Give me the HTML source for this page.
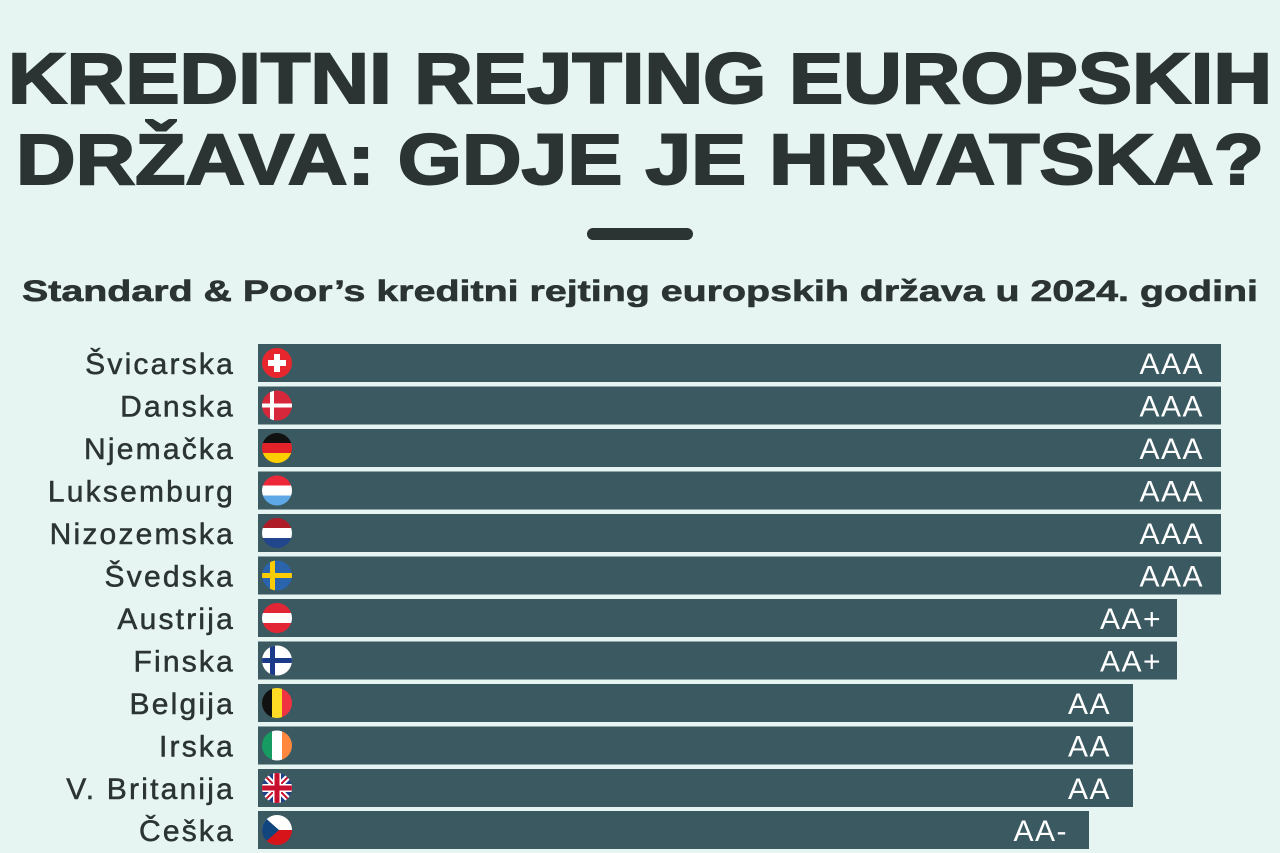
<!DOCTYPE html>
<html><head><meta charset="utf-8"><style>
html,body{margin:0;padding:0;background:#e6f5f2;}
svg{display:block}
.l{font-size:30px;letter-spacing:2.2px;fill:#2b3432;stroke:#2b3432;stroke-width:0.5}
.r{font-size:30px;letter-spacing:1.5px;fill:#fff}
</style></head><body>
<svg width="1280" height="853" viewBox="0 0 1280 853" xmlns="http://www.w3.org/2000/svg">
<rect width="1280" height="853" fill="#e6f5f2"/>
<g font-family="Liberation Sans, sans-serif" font-weight="bold" fill="#2b3432" stroke="#2b3432">
<text x="8" y="103" font-size="71" stroke-width="2" textLength="1264" lengthAdjust="spacingAndGlyphs">KREDITNI REJTING EUROPSKIH</text>
<text x="16" y="184" font-size="71" stroke-width="2" textLength="1248" lengthAdjust="spacingAndGlyphs">DRŽAVA: GDJE JE HRVATSKA?</text>
<text x="22" y="301" font-size="30" stroke-width="0.6" textLength="1236" lengthAdjust="spacingAndGlyphs">Standard &amp; Poor’s kreditni rejting europskih država u 2024. godini</text>
</g>
<rect x="587" y="228" width="106" height="12" rx="6" fill="#2b3432"/>
<defs>
<clipPath id="c"><circle cx="0" cy="0" r="15"/></clipPath>
</defs>
<g font-family="Liberation Sans, sans-serif">
<g transform="translate(0,344)">
<text class="l" x="235" y="30" text-anchor="end">Švicarska</text>
<rect x="258" width="963" height="38" fill="#3a5961"/>
<text class="r" x="1204" y="30" text-anchor="end">AAA</text>
<g transform="translate(277,19)" clip-path="url(#c)"><rect x="-15" y="-15" width="30" height="30" fill="#e8262d"/><rect x="-3" y="-9" width="6" height="18" fill="#fff"/><rect x="-9" y="-3" width="18" height="6" fill="#fff"/></g>
</g>
<g transform="translate(0,386.5)">
<text class="l" x="235" y="30" text-anchor="end">Danska</text>
<rect x="258" width="963" height="38" fill="#3a5961"/>
<text class="r" x="1204" y="30" text-anchor="end">AAA</text>
<g transform="translate(277,19)" clip-path="url(#c)"><rect x="-15" y="-15" width="30" height="30" fill="#d6283a"/><rect x="-7" y="-15" width="4" height="30" fill="#fff"/><rect x="-15" y="-2" width="30" height="4" fill="#fff"/></g>
</g>
<g transform="translate(0,429)">
<text class="l" x="235" y="30" text-anchor="end">Njemačka</text>
<rect x="258" width="963" height="38" fill="#3a5961"/>
<text class="r" x="1204" y="30" text-anchor="end">AAA</text>
<g transform="translate(277,19)" clip-path="url(#c)"><rect x="-15" y="-15" width="30" height="10" fill="#111"/><rect x="-15" y="-5" width="30" height="10" fill="#e3222a"/><rect x="-15" y="5" width="30" height="10" fill="#ffce00"/></g>
</g>
<g transform="translate(0,471.5)">
<text class="l" x="235" y="30" text-anchor="end">Luksemburg</text>
<rect x="258" width="963" height="38" fill="#3a5961"/>
<text class="r" x="1204" y="30" text-anchor="end">AAA</text>
<g transform="translate(277,19)" clip-path="url(#c)"><rect x="-15" y="-15" width="30" height="10" fill="#ed2939"/><rect x="-15" y="-5" width="30" height="10" fill="#fff"/><rect x="-15" y="5" width="30" height="10" fill="#5fa8e8"/></g>
</g>
<g transform="translate(0,514)">
<text class="l" x="235" y="30" text-anchor="end">Nizozemska</text>
<rect x="258" width="963" height="38" fill="#3a5961"/>
<text class="r" x="1204" y="30" text-anchor="end">AAA</text>
<g transform="translate(277,19)" clip-path="url(#c)"><rect x="-15" y="-15" width="30" height="10" fill="#ae1c28"/><rect x="-15" y="-5" width="30" height="10" fill="#fff"/><rect x="-15" y="5" width="30" height="10" fill="#21468b"/></g>
</g>
<g transform="translate(0,556.5)">
<text class="l" x="235" y="30" text-anchor="end">Švedska</text>
<rect x="258" width="963" height="38" fill="#3a5961"/>
<text class="r" x="1204" y="30" text-anchor="end">AAA</text>
<g transform="translate(277,19)" clip-path="url(#c)"><rect x="-15" y="-15" width="30" height="30" fill="#2a64ad"/><rect x="-7" y="-15" width="5" height="30" fill="#fecc00"/><rect x="-15" y="-2.5" width="30" height="5" fill="#fecc00"/></g>
</g>
<g transform="translate(0,599)">
<text class="l" x="235" y="30" text-anchor="end">Austrija</text>
<rect x="258" width="919" height="38" fill="#3a5961"/>
<text class="r" x="1162" y="30" text-anchor="end">AA+</text>
<g transform="translate(277,19)" clip-path="url(#c)"><rect x="-15" y="-15" width="30" height="10" fill="#e32636"/><rect x="-15" y="-5" width="30" height="10" fill="#fff"/><rect x="-15" y="5" width="30" height="10" fill="#e32636"/></g>
</g>
<g transform="translate(0,641.5)">
<text class="l" x="235" y="30" text-anchor="end">Finska</text>
<rect x="258" width="919" height="38" fill="#3a5961"/>
<text class="r" x="1162" y="30" text-anchor="end">AA+</text>
<g transform="translate(277,19)" clip-path="url(#c)"><rect x="-15" y="-15" width="30" height="30" fill="#fff"/><rect x="-7" y="-15" width="5" height="30" fill="#1b3a8a"/><rect x="-15" y="-2.5" width="30" height="5" fill="#1b3a8a"/></g>
</g>
<g transform="translate(0,684)">
<text class="l" x="235" y="30" text-anchor="end">Belgija</text>
<rect x="258" width="875" height="38" fill="#3a5961"/>
<text class="r" x="1111" y="30" text-anchor="end">AA</text>
<g transform="translate(277,19)" clip-path="url(#c)"><rect x="-15" y="-15" width="10" height="30" fill="#111"/><rect x="-5" y="-15" width="10" height="30" fill="#fdda24"/><rect x="5" y="-15" width="10" height="30" fill="#ef3340"/></g>
</g>
<g transform="translate(0,726.5)">
<text class="l" x="235" y="30" text-anchor="end">Irska</text>
<rect x="258" width="875" height="38" fill="#3a5961"/>
<text class="r" x="1111" y="30" text-anchor="end">AA</text>
<g transform="translate(277,19)" clip-path="url(#c)"><rect x="-15" y="-15" width="10" height="30" fill="#169b62"/><rect x="-5" y="-15" width="10" height="30" fill="#fff"/><rect x="5" y="-15" width="10" height="30" fill="#ff883e"/></g>
</g>
<g transform="translate(0,769)">
<text class="l" x="235" y="30" text-anchor="end">V. Britanija</text>
<rect x="258" width="875" height="38" fill="#3a5961"/>
<text class="r" x="1111" y="30" text-anchor="end">AA</text>
<g transform="translate(277,19)" clip-path="url(#c)"><rect x="-15" y="-15" width="30" height="30" fill="#1f3f8a"/><path d="M-15,-15L15,15M15,-15L-15,15" stroke="#fff" stroke-width="6"/><path d="M-15,-15L15,15M15,-15L-15,15" stroke="#c8102e" stroke-width="2"/><rect x="-4" y="-15" width="8" height="30" fill="#fff"/><rect x="-15" y="-4" width="30" height="8" fill="#fff"/><rect x="-2.5" y="-15" width="5" height="30" fill="#c8102e"/><rect x="-15" y="-2.5" width="30" height="5" fill="#c8102e"/></g>
</g>
<g transform="translate(0,811)">
<text class="l" x="235" y="30" text-anchor="end">Češka</text>
<rect x="258" width="831" height="38" fill="#3a5961"/>
<text class="r" x="1068" y="30" text-anchor="end">AA-</text>
<g transform="translate(277,19)" clip-path="url(#c)"><rect x="-15" y="-15" width="30" height="15" fill="#fff"/><rect x="-15" y="0" width="30" height="15" fill="#d7141a"/><path d="M-15,-15L2,0L-15,15Z" fill="#11457e"/></g>
</g>
</g>
</svg>
</body></html>
